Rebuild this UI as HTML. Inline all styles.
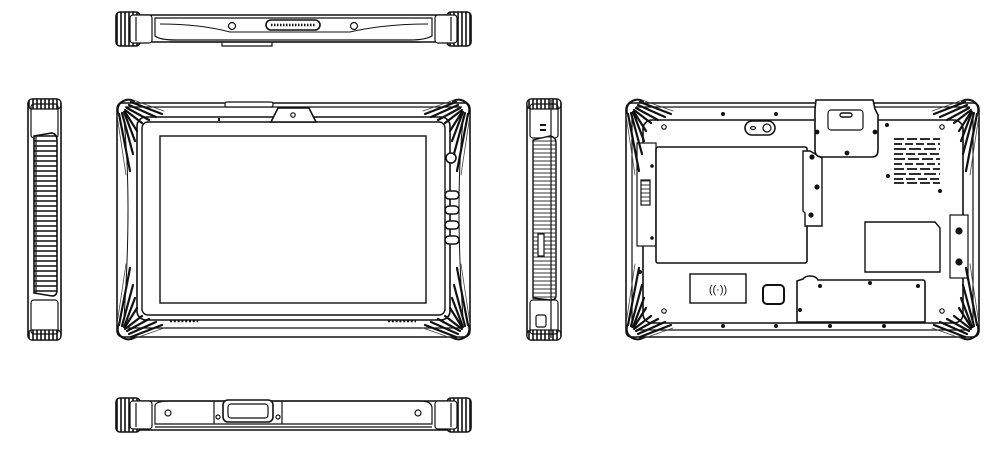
<!DOCTYPE html>
<html><head><meta charset="utf-8"><style>
html,body{margin:0;padding:0;background:#fff;}
svg{display:block;}
</style></head><body>
<svg width="1000" height="451" viewBox="0 0 1000 451" xmlns="http://www.w3.org/2000/svg" fill="none" stroke="#111" stroke-width="1.2">
<defs>
<pattern id="vrib" width="4" height="40" patternUnits="userSpaceOnUse"><rect width="4" height="40" fill="#fff" stroke="none"/><line x1="1" y1="0" x2="1" y2="40" stroke="#111" stroke-width="1.6"/></pattern>
<pattern id="hrib" width="40" height="5" patternUnits="userSpaceOnUse"><rect width="40" height="5" fill="#fff" stroke="none"/><line x1="0" y1="1" x2="40" y2="1" stroke="#111" stroke-width="1.4"/></pattern>
<pattern id="hrib2" width="40" height="4" patternUnits="userSpaceOnUse"><rect width="40" height="4" fill="#fff" stroke="none"/><line x1="0" y1="1" x2="40" y2="1" stroke="#333" stroke-width="1"/></pattern>
<g id="corner" stroke-linecap="round">
  <path d="M2,14 Q0,4 10,1 Q14,0 18,2" stroke-width="2"/>
  <g stroke-width="2.2">
    <line x1="15" y1="3" x2="46" y2="15"/>
    <line x1="13" y1="6" x2="40" y2="18"/>
    <line x1="11" y1="9" x2="33" y2="21"/>
    <line x1="9" y1="11" x2="26" y2="24"/>
    <line x1="3" y1="15" x2="14" y2="72"/>
    <line x1="6" y1="14" x2="17" y2="55"/>
    <line x1="8" y1="13" x2="19" y2="42"/>
    <line x1="9" y1="13" x2="21" y2="32"/>
  </g>
  <g stroke-width="0.8" stroke="#444">
    <line x1="17" y1="1" x2="48" y2="12"/>
    <line x1="1" y1="16" x2="10" y2="76"/>
  </g>
</g>
<g id="endcap">
  <rect x="0" y="0" width="24" height="34" rx="4" fill="url(#vrib)" stroke-width="1.6"/>
  <rect x="14" y="3" width="22" height="28" rx="3" fill="#fff"/>
  <line x1="20" y1="5" x2="20" y2="29"/>
</g>
</defs>

<!-- TOP VIEW -->
<g>
  <path d="M138,15 L448,15 L448,42 L138,42 Z" fill="#fff" stroke-width="1.6"/>
  <path d="M155,18 L432,18 L432,36 Q425,40 410,40 L176,40 Q160,40 155,36 Z"/>
  <path d="M160,24 Q200,24 230,32 L350,32 Q385,24 428,24" stroke-width="1"/>
  <line x1="170" y1="42" x2="420" y2="42"/>
  <path d="M222,42 L222,46 L272,46 L272,42" />
  <rect x="266" y="20" width="54" height="10" rx="5" stroke-width="1.6"/>
  <line x1="271" y1="25" x2="315" y2="25" stroke-dasharray="1.5 1.5" stroke-width="2.5"/>
  <circle cx="232" cy="26" r="3.5"/><circle cx="354" cy="26" r="3.5"/>
  <use href="#endcap" x="116" y="12"/>
  <use href="#endcap" transform="translate(471,12) scale(-1,1)"/>
</g>

<!-- BOTTOM VIEW -->
<g>
  <path d="M138,401 L448,401 L448,430 L138,430 Z" fill="#fff" stroke-width="1.6"/>
  <path d="M155,406 Q155,401 170,401 L420,401 Q432,401 432,408 L432,424 L155,424 Z"/>
  <line x1="155" y1="427" x2="432" y2="427"/>
  <line x1="214" y1="401" x2="214" y2="424"/><line x1="282" y1="401" x2="282" y2="424"/>
  <rect x="223" y="400" width="50" height="22" rx="5" fill="#fff" stroke-width="1.6"/>
  <rect x="228" y="404" width="40" height="14" rx="3"/>
  <circle cx="168" cy="413" r="3"/><circle cx="418" cy="413" r="3"/>
  <circle cx="218" cy="417" r="2"/><circle cx="278" cy="417" r="2"/>
  <use href="#endcap" x="116" y="398"/>
  <use href="#endcap" transform="translate(471,398) scale(-1,1)"/>
</g>

<!-- LEFT SIDE VIEW -->
<g>
  <rect x="28" y="99" width="33" height="241" rx="5" fill="#fff" stroke-width="1.6"/>
  <rect x="28" y="99" width="33" height="10" rx="4" fill="url(#vrib)"/>
  <rect x="28" y="330" width="33" height="10" rx="4" fill="url(#vrib)"/>
  <rect x="31" y="104" width="27" height="34" rx="3"/>
  <rect x="31" y="300" width="27" height="34" rx="3"/>
  <path d="M34,136 L52,133 Q57,134 57,140 L57,290 Q57,296 52,296 L34,293 Z" fill="url(#hrib)" stroke-width="1.6"/>
  <line x1="36" y1="136" x2="36" y2="293"/>
</g>

<!-- FRONT VIEW -->
<g>
  <path d="M122,103 L465,103 Q470,103 470,110 L470,330 Q470,337 463,337 L124,337 Q117,337 117,330 L117,110 Q117,103 122,103 Z" fill="#fff" stroke-width="1.6"/>
  <line x1="125" y1="107" x2="462" y2="107"/>
  <line x1="125" y1="328" x2="462" y2="328"/>
  <path d="M124,120 Q132,200 124,318" stroke-width="1"/>
  <path d="M463,120 Q455,200 463,318" stroke-width="1"/>
  <rect x="225" y="102" width="48" height="5" rx="2" fill="#fff"/>
  <rect x="137" y="117" width="313" height="203" rx="9" stroke-width="1.6"/>
  <rect x="142" y="122" width="303" height="193" rx="6" stroke-width="1.4"/>
  <rect x="160" y="136" width="266" height="167" stroke-width="1.4"/>
  <path d="M271,122 L278,108 L309,108 L316,122 Z" fill="#fff" stroke-width="1.6"/>
  <circle cx="293" cy="115" r="2.2"/>
  <line x1="219" y1="118" x2="219" y2="121" stroke-width="2"/>
  <line x1="170" y1="321" x2="198" y2="321" stroke-dasharray="2 1.8" stroke-width="2.5"/>
  <line x1="388" y1="321" x2="416" y2="321" stroke-dasharray="2 1.8" stroke-width="2.5"/>
  <circle cx="451" cy="158" r="5" fill="#fff" stroke-width="1.6"/>
  <rect x="445" y="191" width="14" height="8" rx="4" fill="#fff" stroke-width="1.6"/>
  <rect x="445" y="206" width="14" height="8" rx="4" fill="#fff" stroke-width="1.6"/>
  <rect x="445" y="221" width="14" height="8" rx="4" fill="#fff" stroke-width="1.6"/>
  <rect x="445" y="236" width="14" height="8" rx="4" fill="#fff" stroke-width="1.6"/>
  <use href="#corner" x="116" y="99"/>
  <use href="#corner" transform="translate(471,99) scale(-1,1)"/>
  <use href="#corner" transform="translate(116,340) scale(1,-1)"/>
  <use href="#corner" transform="translate(471,340) scale(-1,-1)"/>
</g>

<!-- RIGHT SIDE VIEW -->
<g>
  <rect x="527" y="99" width="34" height="241" rx="5" fill="#fff" stroke-width="1.6"/>
  <rect x="527" y="99" width="34" height="10" rx="4" fill="url(#vrib)"/>
  <rect x="527" y="330" width="34" height="10" rx="4" fill="url(#vrib)"/>
  <rect x="530" y="104" width="28" height="34" rx="3"/>
  <rect x="530" y="300" width="28" height="34" rx="3"/>
  <path d="M533,140 L550,136 Q556,137 556,143 L556,296 Q556,300 550,300 L533,298 Z" fill="url(#hrib2)" stroke-width="1.4"/>
  <line x1="551" y1="100" x2="551" y2="338"/>
  <line x1="540" y1="125" x2="546" y2="125" stroke-width="2"/><line x1="540" y1="130" x2="546" y2="130" stroke-width="2"/>
  <rect x="538" y="234" width="6" height="22" fill="#fff"/>
  <rect x="536" y="315" width="10" height="12" rx="2" fill="#fff"/>
</g>

<!-- BACK VIEW -->
<g>
  <path d="M632,103 L973,103 Q979,103 979,110 L979,330 Q979,337 972,337 L632,337 Q626,337 626,330 L626,110 Q626,103 632,103 Z" fill="#fff" stroke-width="1.6"/>
  <line x1="636" y1="107" x2="970" y2="107"/>
  <line x1="636" y1="330" x2="970" y2="330"/>
  <rect x="643" y="120" width="320" height="203" rx="9" stroke-width="1.6"/>
  <line x1="632" y1="112" x2="632" y2="328"/>
  <line x1="973" y1="112" x2="973" y2="328"/>
  <rect x="637" y="143" width="19" height="103" fill="#fff"/>
  <rect x="641" y="180" width="9" height="25" fill="url(#hrib2)"/>
  <rect x="656" y="147" width="151" height="116" rx="2" fill="#fff" stroke-width="1.6"/>
  <path d="M803,151 L810,151 L822,158 L822,226 L805,226 L805,213 L803,211 Z" fill="#fff" stroke-width="1.4"/>
  <circle cx="812" cy="157" r="2" fill="#111"/><circle cx="817" cy="187" r="2" fill="#111"/><circle cx="811" cy="215" r="2" fill="#111"/>
  <path d="M815,109 L816,100 L873,100 L875,109 L878,115 L878,150 Q878,157 872,157 L822,157 Q815,157 815,150 Z" fill="#fff" stroke-width="1.6"/>
  <rect x="828" y="110" width="35" height="20" rx="3"/>
  <rect x="840" y="113" width="12" height="4" rx="2" stroke-width="1.4"/>
  <circle cx="817" cy="132" r="1.8" fill="#111"/><circle cx="875" cy="132" r="1.8" fill="#111"/><circle cx="847" cy="153" r="1.8" fill="#111"/>
  <rect x="745" y="121" width="30" height="14" rx="7" stroke-width="1.6"/>
  <circle cx="767" cy="128" r="4"/><ellipse cx="753" cy="128" rx="2.5" ry="1.5"/>
  <g stroke-width="1.8">
    <line x1="894" y1="139" x2="940" y2="139" stroke-dasharray="10 3"/>
    <line x1="894" y1="144" x2="940" y2="144" stroke-dasharray="8 3"/>
    <line x1="894" y1="149" x2="940" y2="149" stroke-dasharray="12 3"/>
    <line x1="894" y1="154" x2="940" y2="154" stroke-dasharray="9 3"/>
    <line x1="894" y1="159" x2="940" y2="159" stroke-dasharray="11 3"/>
    <line x1="894" y1="164" x2="940" y2="164" stroke-dasharray="8 3"/>
    <line x1="894" y1="169" x2="940" y2="169" stroke-dasharray="10 3"/>
    <line x1="894" y1="174" x2="940" y2="174" stroke-dasharray="12 3"/>
    <line x1="894" y1="179" x2="940" y2="179" stroke-dasharray="9 3"/>
    <line x1="894" y1="183" x2="940" y2="183" stroke-dasharray="10 3"/>
  </g>
  <path d="M865,222 L935,222 L940,228 L940,272 L865,272 Z" stroke-width="1.4"/>
  <rect x="950" y="215" width="18" height="63" fill="#fff"/>
  <circle cx="959" cy="231" r="3" fill="#111"/><circle cx="959" cy="262" r="3" fill="#111"/>
  <rect x="690" y="274" width="56" height="29" stroke-width="1.4"/>
  <text x="718" y="293" font-family="Liberation Sans, sans-serif" font-size="11" fill="#111" stroke="none" text-anchor="middle">((·))</text>
  <rect x="763" y="285" width="21" height="19" rx="4" stroke-width="2"/>
  <path d="M797,281 L803,279 Q805,276 810,276 Q816,276 818,280 L923,280 Q925,280 925,283 L925,322 L797,322 Z" fill="#fff" stroke-width="1.6"/>
  <g fill="#111" stroke="none">
    <circle cx="723" cy="114" r="2"/><circle cx="776" cy="114" r="2"/><circle cx="887" cy="125" r="2"/>
    <circle cx="888" cy="176" r="2"/><circle cx="940" cy="191" r="2"/>
    <circle cx="820" cy="286" r="2"/><circle cx="870" cy="283" r="2"/><circle cx="918" cy="286" r="2"/>
    <circle cx="800" cy="310" r="2"/><circle cx="723" cy="326" r="2"/><circle cx="776" cy="326" r="2"/>
    <circle cx="830" cy="326" r="2"/><circle cx="884" cy="326" r="2"/><circle cx="640" cy="272" r="2"/>
    <circle cx="652" cy="166" r="1.8"/><circle cx="652" cy="238" r="1.8"/>
  </g>
  <circle cx="664" cy="127" r="2.2"/><circle cx="942" cy="127" r="2.2"/>
  <circle cx="664" cy="311" r="2.2"/><circle cx="942" cy="311" r="2.2"/>
  <use href="#corner" x="625" y="99"/>
  <use href="#corner" transform="translate(980,99) scale(-1,1)"/>
  <use href="#corner" transform="translate(625,340) scale(1,-1)"/>
  <use href="#corner" transform="translate(980,340) scale(-1,-1)"/>
</g>
</svg>
</body></html>
